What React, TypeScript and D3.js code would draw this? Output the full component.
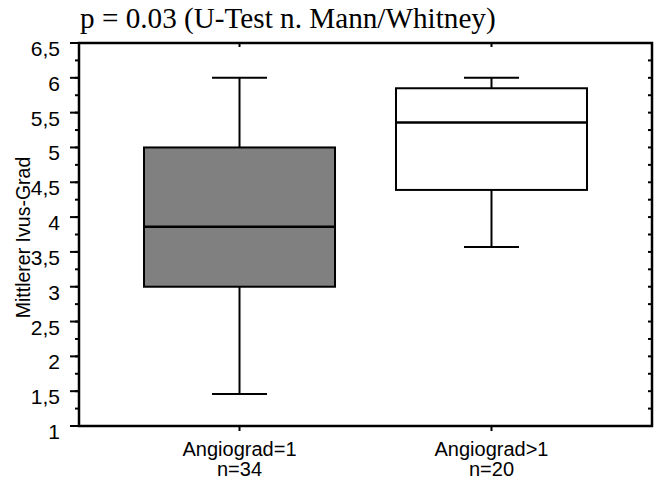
import { range, scaleLinear, scalePoint } from 'd3'

const categories = ['Angiograd=1', 'Angiograd>1']
const sampleSizes = ['n=34', 'n=20']
const whiskerLow = [1.46, 3.57]
const lowerQuartile = [3.0, 4.39]
const medians = [3.86, 5.36]
const upperQuartile = [5.0, 5.85]
const whiskerHigh = [6.0, 6.0]

const yTicks = [1, 1.5, 2, 2.5, 3, 3.5, 4, 4.5, 5, 5.5, 6, 6.5]
const yTickLabels = ['1', '1,5', '2', '2,5', '3', '3,5', '4', '4,5', '5', '5,5', '6', '6,5']

const title = 'p = 0.03 (U-Test n. Mann/Whitney)'
const yLabel = 'Mittlerer Ivus-Grad'

const width = 656
const height = 483
const margin = { top: 43, right: 4, bottom: 57, left: 79 }
const boxWidth = 191
const capWidth = 55
const boxFills = ['#808080', '#ffffff']
const sans = 'Arial, "Liberation Sans", sans-serif'

function App() {
  const innerLeft = margin.left
  const innerRight = width - margin.right
  const innerTop = margin.top
  const innerBottom = height - margin.bottom

  const xScale = scalePoint<string>()
    .domain(categories)
    .range([innerLeft, innerRight])
    .padding(0.637)

  const yScale = scaleLinear().domain([1, 6.5]).range([innerBottom, innerTop])

  const minorTicks = range(1, 6.5001, 0.25)

  return (
    <svg
      width={width}
      height={height}
      viewBox={`0 0 ${width} ${height}`}
      style={{ position: 'absolute', left: 0, top: 0, background: '#fff' }}
    >
      <text
        x={80}
        y={28}
        fontFamily='"Times New Roman", "Liberation Serif", serif'
        fontSize={29.2}
        fill="#000"
      >
        {title}
      </text>

      {categories.map((cat, i) => {
        const cx = xScale(cat) ?? 0
        return (
          <g key={cat}>
            <line
              x1={cx}
              x2={cx}
              y1={yScale(whiskerLow[i])}
              y2={yScale(whiskerHigh[i])}
              stroke="#000"
              strokeWidth={2}
            />
            <line
              x1={cx - capWidth / 2}
              x2={cx + capWidth / 2}
              y1={yScale(whiskerHigh[i])}
              y2={yScale(whiskerHigh[i])}
              stroke="#000"
              strokeWidth={2}
            />
            <line
              x1={cx - capWidth / 2}
              x2={cx + capWidth / 2}
              y1={yScale(whiskerLow[i])}
              y2={yScale(whiskerLow[i])}
              stroke="#000"
              strokeWidth={2}
            />
            <rect
              x={cx - boxWidth / 2}
              y={yScale(upperQuartile[i])}
              width={boxWidth}
              height={yScale(lowerQuartile[i]) - yScale(upperQuartile[i])}
              fill={boxFills[i]}
              stroke="#000"
              strokeWidth={2}
            />
            <line
              x1={cx - boxWidth / 2}
              x2={cx + boxWidth / 2}
              y1={yScale(medians[i])}
              y2={yScale(medians[i])}
              stroke="#000"
              strokeWidth={2.5}
            />
            <line x1={cx} x2={cx} y1={innerTop} y2={innerTop + 4} stroke="#000" strokeWidth={2} />
            <line x1={cx} x2={cx} y1={innerBottom} y2={innerBottom + 5} stroke="#000" strokeWidth={2} />
            <text
              x={cx}
              y={innerBottom + 30}
              textAnchor="middle"
              fontFamily={sans}
              fontSize={20}
            >
              {cat}
            </text>
            <text
              x={cx}
              y={innerBottom + 50}
              textAnchor="middle"
              fontFamily={sans}
              fontSize={20}
            >
              {sampleSizes[i]}
            </text>
          </g>
        )
      })}

      {minorTicks.map((t) => (
        <g key={`minor-${t}`}>
          <line
            x1={innerLeft - 4}
            x2={innerLeft}
            y1={yScale(t)}
            y2={yScale(t)}
            stroke="#000"
            strokeWidth={2}
          />
          <line
            x1={innerRight - 4}
            x2={innerRight}
            y1={yScale(t)}
            y2={yScale(t)}
            stroke="#000"
            strokeWidth={2}
          />
        </g>
      ))}

      {yTicks.map((t, i) => (
        <g key={`major-${t}`}>
          <line
            x1={innerLeft - 9}
            x2={innerLeft}
            y1={yScale(t)}
            y2={yScale(t)}
            stroke="#000"
            strokeWidth={2}
          />
          <text
            x={innerLeft - 19}
            y={yScale(t)}
            dy="0.62em"
            textAnchor="end"
            fontFamily={sans}
            fontSize={21}
          >
            {yTickLabels[i]}
          </text>
        </g>
      ))}

      <rect
        x={innerLeft}
        y={innerTop}
        width={innerRight - innerLeft}
        height={innerBottom - innerTop}
        fill="none"
        stroke="#000"
        strokeWidth={2.5}
      />

      <text
        transform={`translate(30, ${(innerTop + innerBottom) / 2 + 3}) rotate(-90)`}
        textAnchor="middle"
        fontFamily={sans}
        fontSize={19.5}
      >
        {yLabel}
      </text>
    </svg>
  )
}

export default App
